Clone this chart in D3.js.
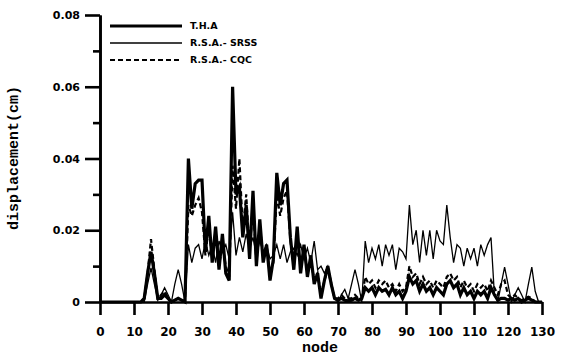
<!DOCTYPE html>
<html>
<head>
<meta charset="utf-8">
<script src="https://cdn.jsdelivr.net/npm/d3@7"></script>
<style>
  body { margin: 0; background: #fff; }
  svg { display: block; }
  .tick text { font-family: "DejaVu Sans", sans-serif; font-weight: bold; fill: #000; }
  .title { font-family: "Courier New", "Liberation Mono", Courier, monospace; font-weight: bold; font-size: 15px; fill: #000; }
  .legend text { font-family: "DejaVu Sans", sans-serif; font-weight: bold; font-size: 9.5px; fill: #000; }
</style>
</head>
<body>
<div id="chart"></div>
<script>
// node numbers 0..130
const nodes = d3.range(0, 131);

// T.H.A (time history analysis)
const tha = [
  0, 0, 0, 0, 0, 0, 0, 0, 0, 0,
  0, 0, 0, 0.001, 0.008, 0.014, 0.008, 0.001, 0.001, 0.002,
  0.001, 0, 0.0005, 0.001, 0.0005, 0, 0.040, 0.026, 0.033, 0.034,
  0.034, 0.014, 0.024, 0.011, 0.021, 0.009, 0.019, 0.008, 0.006, 0.060,
  0.030, 0.032, 0.018, 0.027, 0.012, 0.031, 0.010, 0.023, 0.011, 0.016,
  0.006, 0.012, 0.036, 0.027, 0.033, 0.034, 0.018, 0.009, 0.021, 0.008,
  0.016, 0.007, 0.013, 0.005, 0.008, 0.001, 0.006, 0.010, 0.005, 0.001,
  0.0005, 0.001, 0.0005, 0.0003, 0.0005, 0.001, 0.0005, 0.001, 0.004, 0.003,
  0.004, 0.002, 0.004, 0.003, 0.0035, 0.002, 0.004, 0.002, 0.003, 0.001,
  0.003, 0.007, 0.005, 0.006, 0.003, 0.005, 0.003, 0.004, 0.002, 0.004,
  0.003, 0.002, 0.005, 0.006, 0.004, 0.005, 0.002, 0.004, 0.002, 0.003,
  0.001, 0.003, 0.002, 0.003, 0.001, 0.004, 0.002, 0.0005, 0.001, 0.001,
  0.0005, 0.001, 0.0005, 0.001, 0, 0.0005, 0.001, 0.0005, 0, 0,
  0
];

// R.S.A. - SRSS
const srss = [
  0, 0, 0, 0, 0, 0, 0, 0, 0, 0,
  0, 0, 0, 0, 0.005, 0.0095, 0.005, 0.0005, 0.002, 0.004,
  0.002, 0, 0.005, 0.009, 0.005, 0, 0.016, 0.011, 0.015, 0.016,
  0.012, 0.017, 0.013, 0.016, 0.011, 0.017, 0.014, 0.016, 0.012, 0.025,
  0.013, 0.018, 0.014, 0.019, 0.015, 0.018, 0.013, 0.017, 0.014, 0.016,
  0.012, 0.013, 0.016, 0.012, 0.016, 0.011, 0.014, 0.015, 0.013, 0.016,
  0.012, 0.015, 0.011, 0.017, 0.009, 0.010, 0.008, 0.010, 0.006, 0.001,
  0, 0.002, 0.0035, 0.001, 0.005, 0.009, 0.005, 0, 0.017, 0.011,
  0.015, 0.012, 0.016, 0.010, 0.016, 0.013, 0.016, 0.009, 0.015, 0.014,
  0.012, 0.027, 0.016, 0.020, 0.011, 0.020, 0.013, 0.020, 0.012, 0.020,
  0.017, 0.016, 0.027, 0.018, 0.011, 0.016, 0.015, 0.010, 0.015, 0.012,
  0.015, 0.010, 0.016, 0.013, 0.016, 0.018, 0.002, 0, 0.005, 0.0097,
  0.005, 0, 0.002, 0.004, 0.002, 0, 0.005, 0.0097, 0.003, 0,
  0
];

// R.S.A. - CQC
const cqc = [
  0, 0, 0, 0, 0, 0, 0, 0, 0, 0,
  0, 0, 0, 0.001, 0.008, 0.0175, 0.009, 0.001, 0.002, 0.003,
  0.001, 0, 0.0005, 0.001, 0.0005, 0, 0.027, 0.024, 0.027, 0.029,
  0.025, 0.013, 0.021, 0.012, 0.019, 0.010, 0.016, 0.010, 0.007, 0.038,
  0.026, 0.040, 0.020, 0.030, 0.014, 0.027, 0.011, 0.021, 0.013, 0.015,
  0.008, 0.011, 0.030, 0.024, 0.029, 0.031, 0.017, 0.010, 0.019, 0.009,
  0.015, 0.008, 0.012, 0.006, 0.008, 0.002, 0.006, 0.009, 0.005, 0.001,
  0.001, 0.002, 0.001, 0.001, 0.001, 0.002, 0.001, 0.001, 0.007, 0.005,
  0.006, 0.004, 0.006, 0.005, 0.006, 0.004, 0.005, 0.003, 0.005, 0.003,
  0.004, 0.010, 0.007, 0.008, 0.005, 0.007, 0.005, 0.006, 0.004, 0.006,
  0.005, 0.004, 0.007, 0.008, 0.006, 0.007, 0.004, 0.006, 0.004, 0.005,
  0.003, 0.005, 0.004, 0.005, 0.003, 0.006, 0.004, 0.002, 0.005, 0.006,
  0.002, 0.001, 0.002, 0.001, 0.0005, 0.001, 0.0015, 0.001, 0, 0,
  0
];

const xTicks = [0, 10, 20, 30, 40, 50, 60, 70, 80, 90, 100, 110, 120, 130];
const yTicks = [0, 0.02, 0.04, 0.06, 0.08];
const yMinorTicks = [0.01, 0.03, 0.05, 0.07];
const seriesNames = ["T.H.A", "R.S.A.- SRSS", "R.S.A.- CQC"];

const width = 561, height = 357;
const svg = d3.select("#chart").append("svg")
  .attr("width", width)
  .attr("height", height);

const x = d3.scaleLinear().domain([0, 130]).range([100, 542]);
const y = d3.scaleLinear().domain([0, 0.08]).range([302, 15]);

// series lines (thin first, thick on top)
const styles = [
  { data: srss, width: 1.3, dash: null },
  { data: cqc, width: 2.2, dash: "5,3" },
  { data: tha, width: 3.2, dash: null }
];

const line = d3.line()
  .x((d, i) => x(nodes[i]))
  .y(d => y(d));

styles.forEach(s => {
  svg.append("path")
    .datum(s.data)
    .attr("fill", "none")
    .attr("stroke", "#000")
    .attr("stroke-width", s.width)
    .attr("stroke-linejoin", "miter")
    .attr("stroke-dasharray", s.dash)
    .attr("d", line);
});

// axes
const xAxis = d3.axisBottom(x)
  .tickValues(xTicks)
  .tickFormat(d3.format("d"))
  .tickSizeInner(13)
  .tickSizeOuter(0)
  .tickPadding(12);

const yAxis = d3.axisLeft(y)
  .tickValues(yTicks)
  .tickFormat(d => d === 0 ? "0" : d3.format(".2f")(d))
  .tickSizeInner(15)
  .tickSizeOuter(0)
  .tickPadding(5);

const yMinor = d3.axisLeft(y)
  .tickValues(yMinorTicks)
  .tickFormat("")
  .tickSizeInner(7)
  .tickSizeOuter(0);

const gx = svg.append("g")
  .attr("transform", "translate(0,302)")
  .call(xAxis);
gx.selectAll("text").style("font-size", "12px");

const gy = svg.append("g")
  .attr("transform", "translate(100,0)")
  .call(yAxis);
gy.selectAll("text").style("font-size", "11px");

const gym = svg.append("g")
  .attr("transform", "translate(100,0)")
  .call(yMinor);

[gx, gy, gym].forEach(g => {
  g.selectAll("path.domain").attr("stroke", "#000").attr("stroke-width", 2.6);
  g.selectAll(".tick line").attr("stroke", "#000").attr("stroke-width", 2.6);
});

// axis titles
svg.append("text")
  .attr("class", "title")
  .attr("x", 320)
  .attr("y", 352)
  .attr("text-anchor", "middle")
  .text("node");

svg.append("text")
  .attr("class", "title")
  .attr("transform", "translate(18,158) rotate(-90)")
  .attr("text-anchor", "middle")
  .text("displacement(cm)");

// legend
const legend = svg.append("g").attr("class", "legend");
const legendStyles = [styles[2], styles[0], styles[1]];
const legendY = [26, 43, 60];

seriesNames.forEach((name, i) => {
  legend.append("line")
    .attr("x1", 110).attr("x2", 182)
    .attr("y1", legendY[i]).attr("y2", legendY[i])
    .attr("stroke", "#000")
    .attr("stroke-width", legendStyles[i].width)
    .attr("stroke-dasharray", legendStyles[i].dash);
  legend.append("text")
    .attr("x", 190)
    .attr("y", legendY[i])
    .attr("dy", "0.36em")
    .text(name);
});
</script>
</body>
</html>
